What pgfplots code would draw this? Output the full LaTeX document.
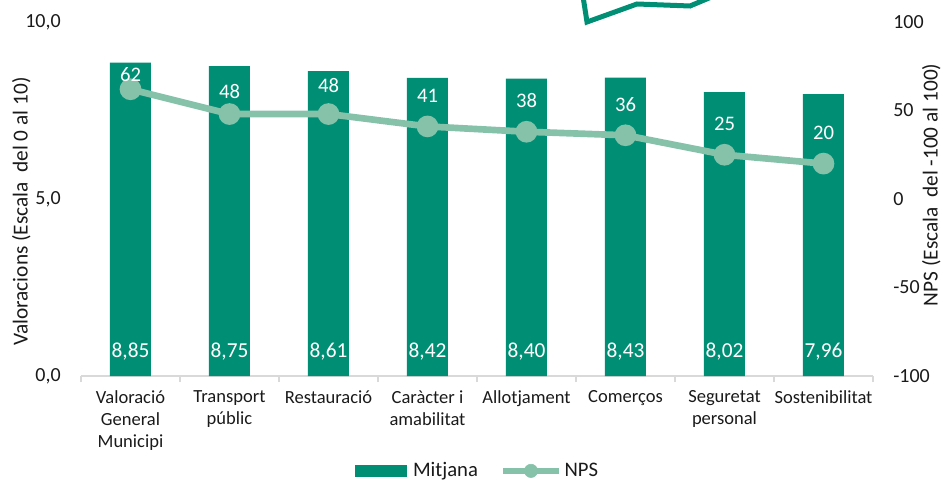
\documentclass[border=0pt]{standalone}
\usepackage{fontspec}
\setmainfont{Carlito}
\usepackage{pgfplots}
\usepackage{pgfplotstable}
\pgfplotsset{compat=1.18}

\definecolor{barc}{HTML}{008F75}
\definecolor{linec}{HTML}{86C2AA}
\definecolor{axisc}{HTML}{D9D9D9}
\definecolor{txt}{HTML}{1A1A1A}

% x = category index, mitjana on the left axis, nps on the right one,
% off = how far (pt) each NPS label sits above its point
\pgfplotstableread{
x mitjana nps base off
0 8.85 62 0 5.9
1 8.75 48 0 11.4
2 8.61 48 0 16.5
3 8.42 41 0 17.6
4 8.40 38 0 18.2
5 8.43 36 0 18.2
6 8.02 25 0 18.2
7 7.96 20 0 17.9
}\scores

\pgfplotsset{
  barlegend/.style={legend image code/.code={%
    \fill[barc] (0pt,-4pt) rectangle (38pt,4pt);
    \path (41pt,0pt);}},
  linelegend/.style={legend image code/.code={%
    \draw[linec, line width=4.5pt] (0pt,0pt) -- (42pt,0pt);
    \fill[linec] (21pt,0pt) circle (5pt);}},
  common/.style={
    scale only axis, width=594pt, height=265.5pt,
    at={(60.75pt,77.25pt)}, anchor=south west,
    xmin=-0.5, xmax=7.5, clip=false,
    /pgf/number format/assume math mode=true,
    tick label style={font=\fontsize{15}{18}\selectfont, text=txt},
  },
}

\begin{document}
\begin{tikzpicture}
\useasboundingbox (0,0) rectangle (707.25pt,359.25pt);

% logo fragment at the top edge
\draw[barc, line width=3.75pt, line join=miter]
  (437.25pt,362pt) -- (440.25pt,342.75pt) -- (477.75pt,356.25pt)
  -- (517.5pt,354.75pt) -- (534.75pt,362pt);

\begin{axis}[common,
    ymin=0, ymax=10, ytick={0,5,10},
    axis x line*=bottom, axis y line*=left,
    y axis line style={draw=none},
    x axis line style={draw=axisc, line width=0.8pt},
    xtick={0,...,7}, major tick length=0pt,
    minor xtick={-0.5,0.5,...,7.5}, minor tick length=4.5pt,
    tick align=outside,
    minor tick style={draw=axisc, line width=0.8pt},
    xticklabels={Valoració\\General\\Municipi, Transport\\públic, Restauració,
      Caràcter i\\amabilitat, Allotjament, Comerços, Seguretat\\personal, Sostenibilitat},
    xticklabel style={font=\fontsize{13.9}{16.5}\selectfont, align=center,
      anchor=north, inner sep=0pt, yshift=-11pt},
    yticklabel style={/pgf/number format/fixed, /pgf/number format/fixed zerofill,
      /pgf/number format/precision=1, /pgf/number format/use comma,
      anchor=east, inner sep=0pt, xshift=-15pt},
    ylabel={Valoracions (Escala\ \ del 0 al 10)},
    every axis y label/.style={at={(rel axis cs:-0.0755,0.465)}, rotate=90,
      anchor=center, font=\fontsize{16}{19}\selectfont, text=txt},
  ]
  \addplot[ybar, bar width=30.75pt, fill=barc, draw=none] table[x=x, y=mitjana] {\scores};
  \addplot[draw=none, mark=none, point meta=explicit,
    nodes near coords={\pgfmathprintnumber[fixed,fixed zerofill,precision=2,use comma]{\pgfplotspointmeta}},
    every node near coord/.append style={anchor=base, inner sep=0pt, yshift=13.9pt,
      text=white, font=\fontsize{16}{19}\selectfont}]
    table[x=x, y=base, meta=mitjana] {\scores};
\end{axis}

\begin{axis}[common,
    ymin=-100, ymax=100, ytick={-100,-50,...,100},
    axis x line=none, axis y line*=right,
    y axis line style={draw=none}, major tick length=0pt,
    yticklabel style={anchor=west, inner sep=0pt, xshift=15pt},
    ylabel={NPS (Escala\ \ del -100 al 100)},
    every axis y label/.style={at={(rel axis cs:1.0735,0.54)}, rotate=90,
      anchor=center, font=\fontsize{16}{19}\selectfont, text=txt},
    legend columns=2,
    legend style={draw=none, fill=none, at={(0.5,-0.268)}, anchor=center,
      font=\fontsize{15.5}{18}\selectfont, text=txt,
      /tikz/every odd column/.append style={column sep=1.5pt},
      /tikz/every even column/.append style={column sep=16pt},
      nodes={inner xsep=0.5pt, inner ysep=3pt}},
  ]
  \addlegendimage{barlegend}
  \addlegendentry{Mitjana}
  \addlegendimage{linelegend}
  \addlegendentry{NPS}
  \addplot[linec, line width=5pt, mark=*, mark size=5.6pt,
    mark options={draw=none, fill=linec}, forget plot,
    point meta=explicit,
    visualization depends on={\thisrow{off} \as \labeloff},
    nodes near coords={\pgfmathprintnumber[fixed,precision=0]{\pgfplotspointmeta}},
    every node near coord/.append style={anchor=base, inner sep=0pt, yshift=\labeloff pt,
      text=white, font=\fontsize{15.5}{18}\selectfont}]
    table[x=x, y=nps, meta=nps] {\scores};
\end{axis}
\end{tikzpicture}
\end{document}
